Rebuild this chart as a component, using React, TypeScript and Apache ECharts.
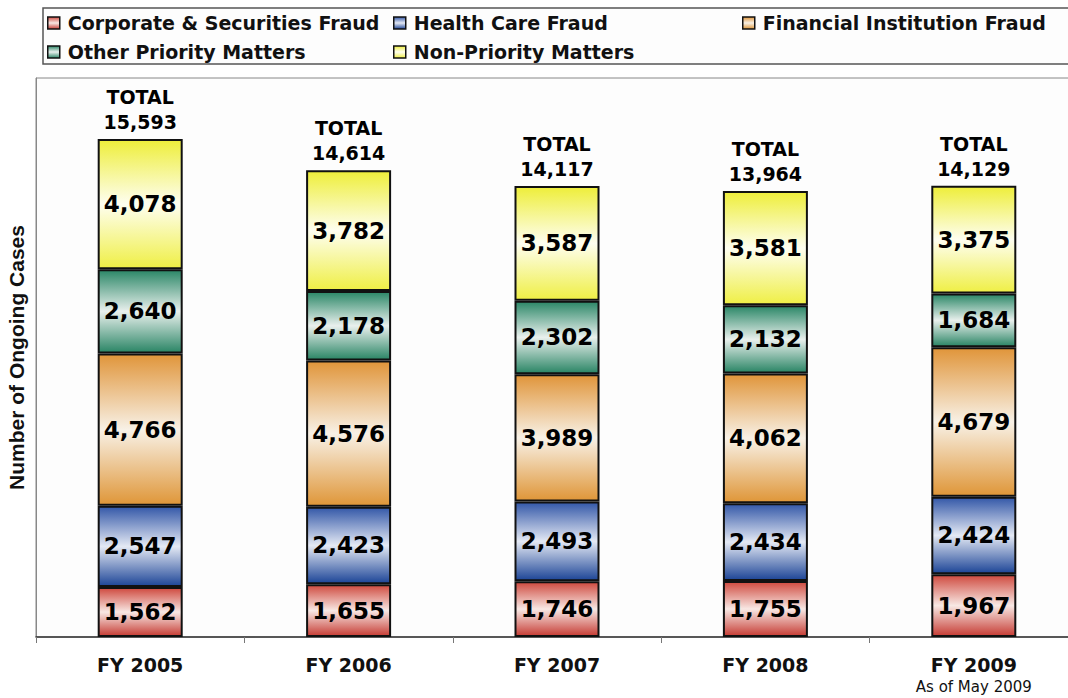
import React, { useEffect, useRef } from "react";
import * as echarts from "echarts";

const categories = ["FY 2005", "FY 2006", "FY 2007", "FY 2008", "FY 2009"];
const lastCategoryNote = "As of May 2009";
const seriesNames = [
  "Corporate & Securities Fraud",
  "Health Care Fraud",
  "Financial Institution Fraud",
  "Other Priority Matters",
  "Non-Priority Matters",
];
const corporate = [1562, 1655, 1746, 1755, 1967];
const healthCare = [2547, 2423, 2493, 2434, 2424];
const financial = [4766, 4576, 3989, 4062, 4679];
const otherPriority = [2640, 2178, 2302, 2132, 1684];
const nonPriority = [4078, 3782, 3587, 3581, 3375];
const totals = [15593, 14614, 14117, 13964, 14129];
const yAxisTitle = "Number of Ongoing Cases";

const palette = [
  ["#cf4a3f", "#f8e8e4", "#c63c34"],
  ["#3458a8", "#e4e9f4", "#1d4597"],
  ["#e0953a", "#f8f1e6", "#df9638"],
  ["#2b8767", "#e9f0ed", "#2a8565"],
  ["#eeee3a", "#fefef0", "#efef45"],
];

const FONT = "'DejaVu Sans', Verdana, sans-serif";
const fmt = (v: number) => v.toLocaleString("en-US");

export default function App() {
  const ref = useRef<HTMLDivElement>(null);
  useEffect(() => {
    document.body.style.margin = "0";
    const chart = echarts.init(ref.current!, null, { renderer: "svg" });
    const values = [corporate, healthCare, financial, otherPriority, nonPriority];
    const grad = (c: string[]) =>
      new echarts.graphic.LinearGradient(0, 0, 0, 1, [
        { offset: 0, color: c[0] },
        { offset: 0.5, color: c[1] },
        { offset: 1, color: c[2] },
      ]);
    const legendPos = [
      [47, 13],
      [393, 13],
      [742, 13],
      [47, 42],
      [393, 42],
    ];
    const option: any = {
      animation: false,
      backgroundColor: "#ffffff",
      graphic: [
        {
          type: "rect",
          shape: { x: 43, y: 8, width: 1040, height: 56 },
          style: { fill: "#fdfdfd", stroke: "#555", lineWidth: 1.5 },
          z: -1,
        },
      ],
      legend: seriesNames.map((n, i) => ({
        data: [n],
        left: legendPos[i][0],
        top: legendPos[i][1],
        padding: 0,
        icon: "rect",
        itemWidth: 12,
        itemHeight: 12,
        itemStyle: { borderColor: "#111", borderWidth: 1.5 },
        textStyle: {
          fontFamily: FONT,
          fontWeight: "bold",
          fontSize: 19,
          color: "#111",
          lineHeight: 20,
          padding: [0, 0, 0, 3],
        },
      })),
      grid: {
        left: 36,
        right: -10,
        top: 78,
        bottom: 61,
        outerBoundsMode: "none",
        containLabel: false,
        show: true,
        borderColor: "#888",
        borderWidth: 1,
        backgroundColor: "#fdfdfd",
      },
      xAxis: {
        type: "category",
        data: categories,
        axisLine: { lineStyle: { color: "#333", width: 1.5 } },
        axisTick: { show: true, length: 6, lineStyle: { color: "#777" } },
        axisLabel: {
          interval: 0,
          margin: 17,
          fontFamily: FONT,
          fontWeight: "bold",
          fontSize: 19,
          color: "#111",
          lineHeight: 22,
          formatter: (v: string, i: number) =>
            i === categories.length - 1 ? `${v}\n{sub|${lastCategoryNote}}` : v,
          rich: {
            sub: {
              fontFamily: FONT,
              fontWeight: "normal",
              fontSize: 15,
              lineHeight: 21,
              color: "#111",
            },
          },
        },
      },
      yAxis: {
        type: "value",
        min: 0,
        max: 17500,
        axisLabel: { show: false },
        axisTick: { show: false },
        splitLine: { show: false },
        axisLine: { show: true, lineStyle: { color: "#888" } },
        name: yAxisTitle,
        nameLocation: "middle",
        nameRotate: 90,
        nameGap: 9,
        nameTextStyle: {
          fontFamily: "'Liberation Sans', Arial, sans-serif",
          fontWeight: "bold",
          fontSize: 21,
          color: "#111",
        },
      },
      series: [
        ...seriesNames.map((n, i) => ({
          name: n,
          type: "bar",
          stack: "total",
          barWidth: 85,
          data: values[i],
          itemStyle: { color: grad(palette[i]), borderColor: "#111", borderWidth: 2 },
          label: {
            show: true,
            position: "inside",
            fontFamily: FONT,
            fontWeight: "bold",
            fontSize: 23,
            color: "#000",
            formatter: (p: any) => fmt(p.value),
          },
        })),
        {
          name: "TOTAL",
          type: "scatter",
          data: totals,
          symbol: "circle",
          symbolSize: 1,
          itemStyle: { color: "rgba(0,0,0,0)", opacity: 1 },
          silent: true,
          z: 5,
          label: {
            show: true,
            position: "top",
            distance: 4,
            opacity: 1,
            fontFamily: FONT,
            fontWeight: "bold",
            fontSize: 19,
            lineHeight: 25,
            color: "#000",
            formatter: (p: any) => `TOTAL\n${fmt(p.value)}`,
          },
        },
      ],
    };
    chart.setOption(option);
    return () => chart.dispose();
  }, []);
  return <div ref={ref} style={{ width: 1068, height: 698 }} />;
}
